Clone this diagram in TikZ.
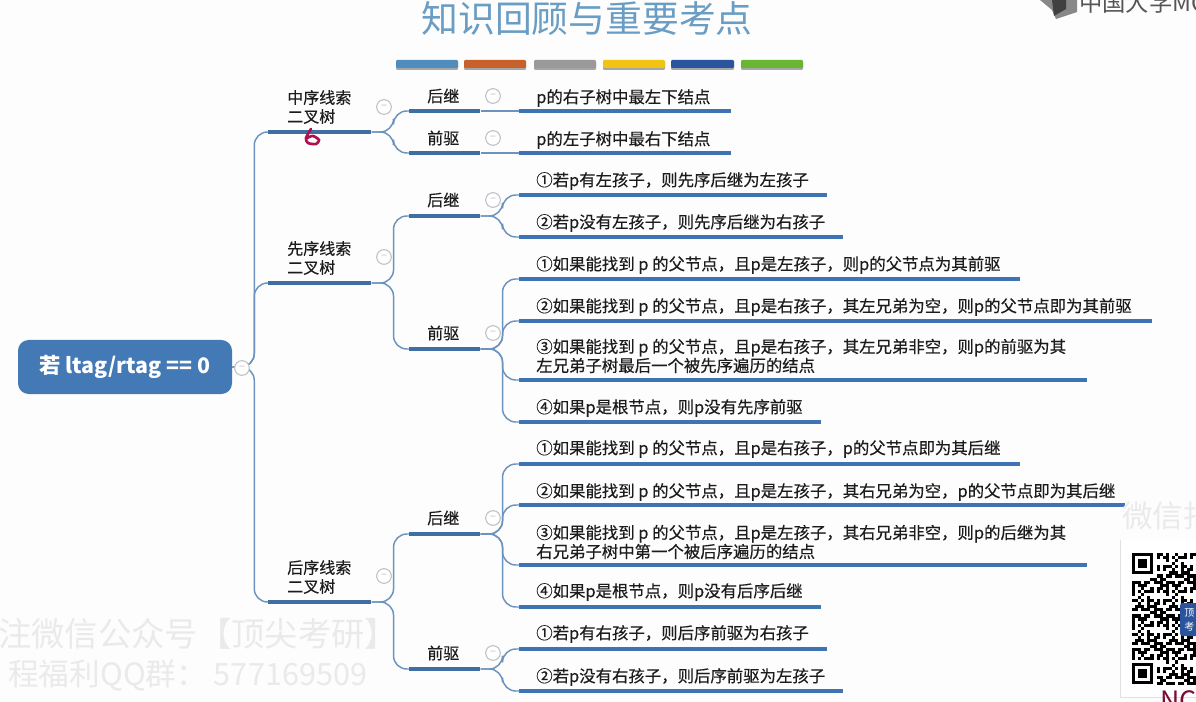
\documentclass[tikz,border=0pt]{standalone}
\usepackage{fontspec}
\setmainfont{Noto Sans CJK SC}
\newfontfamily\inkfont[FakeBold=0.35]{Noto Sans CJK SC}
\usetikzlibrary{positioning}
\definecolor{PaperWhite}{HTML}{FDFDFD}
\definecolor{TitleBlue}{HTML}{6A9DC4}
\definecolor{RootBlue}{HTML}{4379B5}
\definecolor{BarBlue}{HTML}{3F74B4}
\definecolor{TopBarBlue}{HTML}{3E6FA3}
\definecolor{LinkBlue}{HTML}{6C92BE}
\definecolor{TextInk}{HTML}{1C1C1C}
\definecolor{MarkRing}{HTML}{BCC1C6}
\definecolor{PenRed}{HTML}{B0104F}
\definecolor{WaterGrey}{HTML}{EAEAEA}
\definecolor{LogoGrey}{HTML}{555555}
\definecolor{StripeA}{HTML}{4F8DBE}
\definecolor{StripeB}{HTML}{C8602A}
\definecolor{StripeC}{HTML}{9A9A9A}
\definecolor{StripeD}{HTML}{F2C412}
\definecolor{StripeE}{HTML}{2A559E}
\definecolor{StripeF}{HTML}{69B632}

\begin{document}
\begin{tikzpicture}[
 x=.75pt,y=-.75pt,
 rootbox/.style={rounded corners=8pt,fill=RootBlue,text=white,font=\fontsize{16}{18}\selectfont\bfseries,
   minimum width=160.5pt,minimum height=40.5pt,inner sep=0pt},
 bar/.style={fill=BarBlue,anchor=west,minimum height=3pt,inner sep=0pt},
 topbar/.style={bar,fill=TopBarBlue},
 leaf/.style={anchor=west,align=left,text=TextInk,inner sep=0pt,font=\inkfont\fontsize{12}{14.25}\selectfont},
 detail/.style={leaf,font=\inkfont\fontsize{12.3}{14.25}\selectfont},
 foldmark/.style={circle,draw=MarkRing,fill=white,line width=.8pt,minimum size=11pt,inner sep=0pt,
   text=MarkRing,font=\fontsize{8}{8}\selectfont},
 link/.style={draw=LinkBlue,line width=1.1pt,rounded corners=10pt},
 stripe/.style={rounded corners=.8pt},
 water/.style={text=WaterGrey,anchor=west,inner sep=0pt,font=\fontsize{25}{25}\selectfont}
]
 \useasboundingbox (0,0) rectangle (1196,702);
 \clip (0,0) rectangle (1196,702);
 \fill[PaperWhite] (0,0) rectangle (1196,702);

 % heading
 \node[text=TitleBlue,font=\fontsize{27.6}{30}\selectfont,inner sep=0pt] (heading) at (587,19) {知识回顾与重要考点};
 \foreach \xa/\xb/\c in {396/458/StripeA,464/526/StripeB,534/596/StripeC,603/665/StripeD,671/734/StripeE,741/803/StripeF}{
   \fill[stripe,black!35] (\xa,62) rectangle (\xb,70);
   \fill[stripe,\c] (\xa,60) rectangle (\xb,68);
 }

 % logo, top right
 \fill[LogoGrey!70] (1040,0) -- (1052,10) -- (1056,19) -- (1077,12) -- (1077,0) -- cycle;
 \fill[black!75] (1052,0) -- (1054,16) -- (1066,9) -- (1066,0) -- cycle;
 \node[anchor=west,text=LogoGrey,inner sep=0pt,font=\fontsize{17.5}{18}\selectfont] (logo) at (1079,3) {中国大学MOOC};

 \node[rootbox] (root) at (125,367) {若 ltag/rtag == 0};

 % first level
 \foreach \nm/\ybar/\ytxt/\txt in {
   inorder/132/107/{中序线索\\二叉树},
   preorder/283/258/{先序线索\\二叉树},
   postorder/602/577/{后序线索\\二叉树}}{
   \node[topbar,minimum width=77.25pt] (\nm) at (268,\ybar) {};
   \draw[link] (root.east) -- ++(22,0) |- (\nm.west);
   \node[leaf] (\nm t) at (287,\ytxt) {\txt};
 }

 % second level
 \foreach \nm/\up/\ybar/\ytxt/\txt in {
   inN/inorder/111/96/后继,
   inP/inorder/153/138/前驱,
   preN/preorder/216/200/后继,
   preP/preorder/349/333/前驱,
   postN/postorder/534/518/后继,
   postP/postorder/669/653/前驱}{
   \node[topbar,minimum width=53.25pt] (\nm) at (409,\ybar) {};
   \draw[link] (\up.east) -- ++(22,0) |- (\nm.west);
   \node[leaf] (\nm t) at (427,\ytxt) {\txt};
   \node[foldmark] (\nm m) at (493,\ytxt) {−};
 }

 % leaves on the same line as their parent
 \foreach \nm/\up/\ybar/\ytxt/\txt in {
   la/inN/111/98/{p的右子树中最左下结点},
   lb/inP/153/140/{p的左子树中最右下结点}}{
   \node[bar,minimum width=159pt] (\nm) at (519,\ybar) {};
   \draw[link] (\up.east) -- (\nm.west);
   \node[detail] (\nm t) at (536,\ytxt) {\txt};
 }

 % the other leaves
 \foreach \nm/\up/\ybar/\xend/\ytxt/\txt in {
   lc/preN/195/827/181/{①若p有左孩子，则先序后继为左孩子},
   ld/preN/237/843/223/{②若p没有左孩子，则先序后继为右孩子},
   le/preP/279/1020/265/{①如果能找到 p 的父节点，且p是左孩子，则p的父节点为其前驱},
   lf/preP/321/1152/307/{②如果能找到 p 的父节点，且p是右孩子，其左兄弟为空，则p的父节点即为其前驱},
   lg/preP/380/1087/356/{③如果能找到 p 的父节点，且p是右孩子，其左兄弟非空，则p的前驱为其\\左兄弟子树最后一个被先序遍历的结点},
   lh/preP/422/821/408/{④如果p是根节点，则p没有先序前驱},
   li/postN/464/1020/449/{①如果能找到 p 的父节点，且p是右孩子，p的父节点即为其后继},
   lj/postN/505/1125/492/{②如果能找到 p 的父节点，且p是左孩子，其右兄弟为空，p的父节点即为其后继},
   lk/postN/565/1087/542/{③如果能找到 p 的父节点，且p是左孩子，其右兄弟非空，则p的后继为其\\右兄弟子树中第一个被后序遍历的结点},
   ll/postN/607/821/592/{④如果p是根节点，则p没有后序后继},
   lm/postP/649/827/634/{①若p有右孩子，则后序前驱为右孩子},
   ln/postP/691/843/677/{②若p没有右孩子，则后序前驱为左孩子}}{
   \node[bar,minimum width={(\xend-519)*.75pt}] (\nm) at (519,\ybar) {};
   \draw[link] (\up.east) -- ++(22,0) |- (\nm.west);
   \node[detail] (\nm t) at (536,\ytxt) {\txt};
 }

 \node[foldmark] (rootm) at (242,368) {−};
 \node[foldmark] (inorderm) at (384,107) {−};
 \node[foldmark] (preorderm) at (384,257) {−};
 \node[foldmark] (postorderm) at (384,576) {−};

 % pen stroke under the first branch
 \draw[PenRed,line width=2pt,line cap=round] plot[smooth] coordinates {(311,129) (306,138) (308,143) (316,144) (319,140) (313,136) (307,138)};

 % overlays of the video
 \node[water] (wmA) at (-2,634) {注微信公众号【顶尖考研】};
 \node[water,font=\fontsize{23}{23}\selectfont] (wmB) at (8,675) {程福利QQ群： 577169509};
 \node[water,font=\fontsize{23}{23}\selectfont] (wmC) at (1122,516) {微信扫};

 \fill[white] (1120,540) rectangle (1196,697);
 \draw[black!12] (1120,540) -- (1120,697) -- (1196,697);
 \foreach \i in {0,...,20}
   \foreach \j in {0,...,42}{
     \pgfmathtruncatemacro{\cellon}{mod(\i*\i*7+\j*\j*3+\i*\j*5+\i*2,11)<5 ? 1 : 0}
     \pgfmathtruncatemacro{\cellfree}{(\i<8 && (\j<8 || \j>34)) ? 0 : 1}
     \ifnum\cellon\cellfree=11
       \fill[black] ({1132+\i*3.07},{553+\j*3.07}) rectangle ++(3.1,3.1);
     \fi
   }
 \foreach \fy in {553,663}{
   \draw[black,line width=2.2pt] (1133.5,\fy+1.5) rectangle (1151.5,\fy+19.5);
   \fill[black] (1138,\fy+6) rectangle (1147,\fy+15);
 }
 \fill[rounded corners=2pt,StripeE] (1180,603) rectangle (1200,636);
 \node[anchor=west,text=white,align=left,inner sep=0pt,font=\fontsize{7.5}{10}\selectfont] (qrtag) at (1184,620) {顶\\考};

 \node[anchor=north west,text=PenRed!70!black,inner sep=0pt,font=\fontsize{20}{20}\selectfont] (cornertag) at (1160,690) {NC};
\end{tikzpicture}
\end{document}
